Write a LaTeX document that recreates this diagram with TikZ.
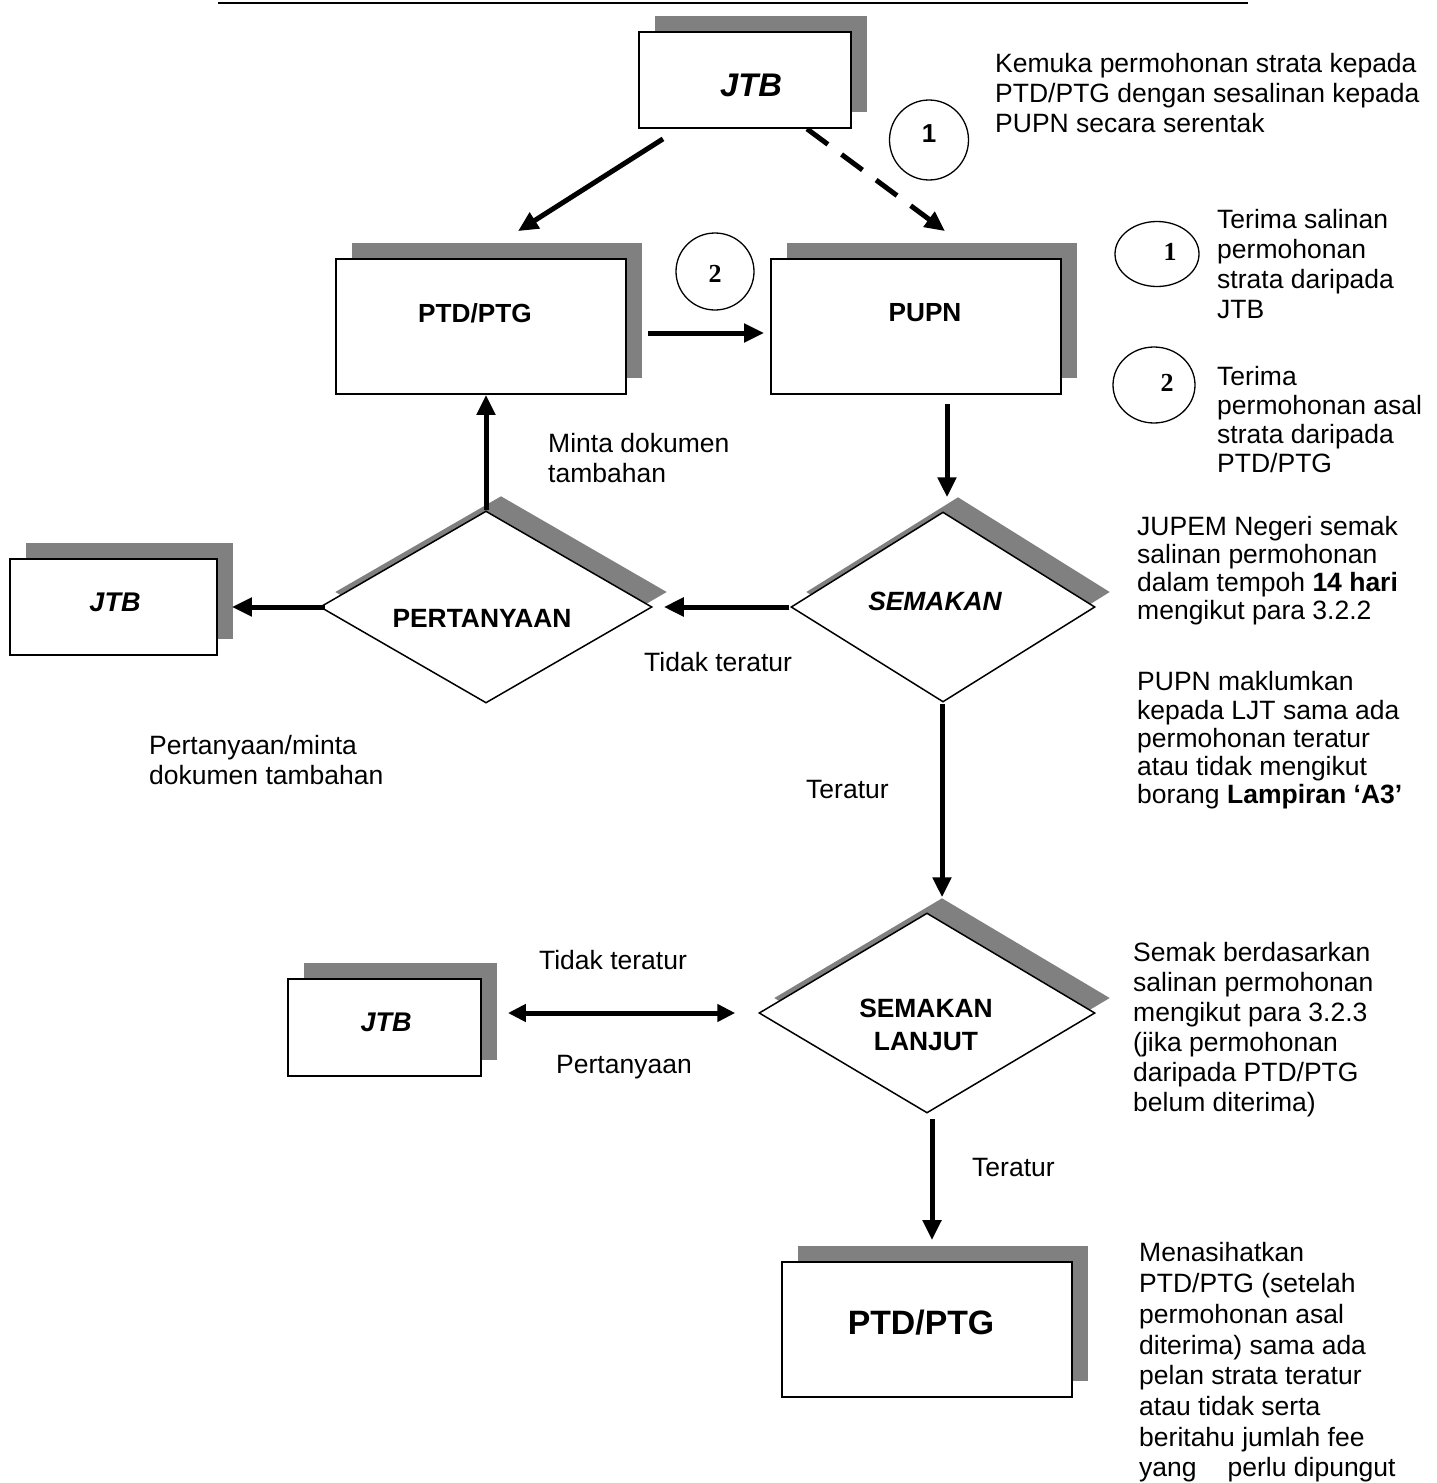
\documentclass[tikz,border=0pt]{standalone}
\usepackage{fontspec}
\setmainfont{Liberation Sans}
\newfontfamily\serifnum{Liberation Serif}
\usetikzlibrary{shapes.geometric,shadows,arrows.meta,calc}
\definecolor{shade}{RGB}{128,128,128}
\begin{document}
\begin{tikzpicture}[x=1pt,y=-1pt,
  body/.style={font=\fontsize{26.5}{30}\selectfont,inner sep=0pt},
  blk/.style={body,align=left,anchor=west},
  boxnode/.style={draw=black,line width=1.8pt,fill=white,rectangle,inner sep=0pt,
    drop shadow={shadow xshift=16pt,shadow yshift=16pt,opacity=1,fill=shade}},
  dianode/.style={draw=black,line width=1.5pt,fill=white,diamond,inner sep=0pt,
    drop shadow={shadow xshift=15pt,shadow yshift=15pt,opacity=1,fill=shade}},
  numcirc/.style={draw=black,line width=1.3pt,ellipse,inner sep=0pt},
  arr/.style={line width=5pt,-{Triangle[length=20pt,width=18pt]}},
  dblarr/.style={line width=5pt,{Triangle[length=18pt,width=17pt]}-{Triangle[length=18pt,width=17pt]}},
]
\path[fill=white,use as bounding box] (0,0) rectangle (1437,1483);

% top rule
\coordinate (ruleL) at (218,3);
\coordinate (ruleR) at (1248,3);
\draw[line width=2.5pt] (ruleL) -- (ruleR);

% boxes
\node[boxnode,minimum width=212pt,minimum height=96pt] (jtbtop) at (745,80) {};
\node[body,font=\fontsize{32.7}{36}\selectfont\bfseries\itshape] (jtbtopT) at (751,85) {JTB};

\node[boxnode,minimum width=290pt,minimum height=135pt] (ptd) at (481,326.5) {};
\node[body,font=\fontsize{26.2}{30}\selectfont\bfseries] (ptdT) at (475,313) {PTD/PTG};

\node[boxnode,minimum width=290pt,minimum height=135pt] (pupn) at (916,326.5) {};
\node[body,font=\fontsize{26.2}{30}\selectfont\bfseries] (pupnT) at (925,313) {PUPN};

\node[boxnode,minimum width=207pt,minimum height=96pt] (jtbl) at (113.5,607) {};
\node[body,font=\fontsize{27}{30}\selectfont\bfseries\itshape] (jtblT) at (115,602) {JTB};

\node[boxnode,minimum width=193pt,minimum height=97pt] (jtbb) at (384.5,1027.5) {};
\node[body,font=\fontsize{27}{30}\selectfont\bfseries\itshape] (jtbbT) at (386,1022) {JTB};

\node[boxnode,minimum width=290pt,minimum height=135pt] (ptdb) at (927,1329.5) {};
\node[body,font=\fontsize{33.8}{38}\selectfont\bfseries] (ptdbT) at (921,1323) {PTD/PTG};

% diamonds
\node[dianode,minimum width=332pt,minimum height=192pt] (pert) at (486,607) {};
\node[body,font=\fontsize{26.4}{30}\selectfont\bfseries] (pertT) at (482,618) {PERTANYAAN};

\node[dianode,minimum width=304pt,minimum height=190pt] (sem) at (943,607) {};
\node[body,font=\fontsize{26.4}{30}\selectfont\bfseries\itshape] (semT) at (935,601) {SEMAKAN};

\node[dianode,minimum width=336pt,minimum height=200pt] (seml) at (927,1013) {};
\node[body,align=center,font=\fontsize{26.4}{33}\selectfont\bfseries] (semlT) at (926,1025) {SEMAKAN\\LANJUT};

% numbered circles
\node[numcirc,minimum width=79pt,minimum height=80pt] (c1top) at (929,140) {};
\node[body,font=\fontsize{26}{30}\selectfont\bfseries] (c1topT) at (929,134) {1};
\node[numcirc,minimum width=78pt,minimum height=77pt] (c2mid) at (715,271.5) {};
\node[body,font=\fontsize{26}{30}\selectfont\serifnum\bfseries] (c2midT) at (715,274) {2};
\node[numcirc,minimum width=84pt,minimum height=65pt] (c1r) at (1157,254) {};
\node[body,font=\fontsize{26}{30}\selectfont\serifnum\bfseries] (c1rT) at (1170,252) {1};
\node[numcirc,minimum width=82pt,minimum height=76pt] (c2r) at (1154,385) {};
\node[body,font=\fontsize{26}{30}\selectfont\serifnum\bfseries] (c2rT) at (1167,383) {2};

% connectors
\draw[arr] ($(jtbtop.south)+(-82,10)$) -- ($(ptd.north)+(37,-27)$);
\draw[arr,dash pattern=on 26pt off 17pt] ($(jtbtop.south)+(62,0)$) -- ($(pupn.north)+(29,-27)$);
\draw[arr] ($(ptd.east)+(21,6.5)$) -- ($(pupn.west)+(-6,6.5)$);
\draw[arr] ($(pupn.south)+(31,9)$) -- ($(sem.north)+(4,-14)$);
\draw[arr] ($(sem.west)+(-1,0)$) -- ($(pert.east)+(11,0)$);
\draw[arr] ($(pert.west)+(6,0)$) -- ($(jtbl.east)+(14,0)$);
\draw[arr] (pert.north) -- ($(ptd.south)+(5,0)$);
\draw[arr] ($(sem.south)+(-1,1)$) -- ($(seml.north)+(15,-15)$);
\draw[dblarr] ($(jtbb.east)+(26,-14.5)$) -- ($(seml.west)+(-23,0)$);
\draw[arr] ($(seml.south)+(5,5)$) -- ($(ptdb.north)+(5,-21)$);

% labels
\node[blk] (tA) at (995,93.5) {Kemuka permohonan strata kepada\\PTD/PTG dengan sesalinan kepada\\PUPN secara serentak};
\node[blk] (tB) at (1217,264.5) {Terima salinan\\permohonan\\strata daripada\\JTB};
\node[blk,font=\fontsize{26.5}{29}\selectfont] (tC) at (1217,420) {Terima\\permohonan asal\\strata daripada\\PTD/PTG};
\node[blk,font=\fontsize{26.5}{28}\selectfont] (tD) at (1137,570.5) {JUPEM Negeri semak\\salinan permohonan\\dalam tempoh \textbf{14 hari}\\mengikut para 3.2.2};
\node[blk,font=\fontsize{26.5}{28.3}\selectfont] (tE) at (1137,740.5) {PUPN maklumkan\\kepada LJT sama ada\\permohonan teratur\\atau tidak mengikut\\borang \textbf{Lampiran ‘A3’}};
\node[blk] (tF) at (1133,1030) {Semak berdasarkan\\salinan permohonan\\mengikut para 3.2.3\\(jika permohonan\\daripada PTD/PTG\\belum diterima)};
\node[blk,font=\fontsize{26.5}{30.7}\selectfont] (tG) at (1139,1362.5) {Menasihatkan\\PTD/PTG (setelah\\permohonan asal\\diterima) sama ada\\pelan strata teratur\\atau tidak serta\\beritahu jumlah fee\\yang\hspace{31pt}perlu dipungut};
\node[blk] (tH) at (548,458) {Minta dokumen\\tambahan};
\node[blk] (tI) at (149,760) {Pertanyaan/minta\\dokumen tambahan};
\node[blk] (tJ) at (644,662) {Tidak teratur};
\node[blk] (tK) at (806,790) {Teratur};
\node[body] (tL) at (613,960) {Tidak teratur};
\node[body] (tM) at (624,1067) {Pertanyaan};
\node[blk] (tN) at (972,1167) {Teratur};
\end{tikzpicture}
\end{document}
